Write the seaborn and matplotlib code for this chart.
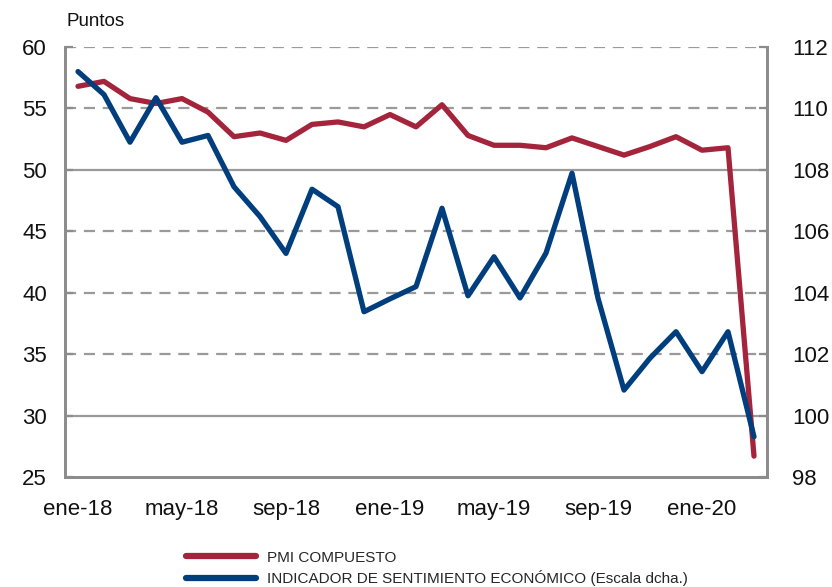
import matplotlib
matplotlib.use("Agg")
import matplotlib.pyplot as plt
import seaborn as sns
import numpy as np
import pandas as pd
from matplotlib.lines import Line2D

# monthly data ene-18 .. mar-20
months = ["ene-18", "feb-18", "mar-18", "abr-18", "may-18", "jun-18", "jul-18", "ago-18", "sep-18",
          "oct-18", "nov-18", "dic-18", "ene-19", "feb-19", "mar-19", "abr-19", "may-19", "jun-19",
          "jul-19", "ago-19", "sep-19", "oct-19", "nov-19", "dic-19", "ene-20", "feb-20", "mar-20"]
pmi = [56.8, 57.2, 55.8, 55.4, 55.8, 54.7, 52.7, 53.0, 52.4, 53.7, 53.9, 53.5, 54.5, 53.5,
       55.3, 52.8, 52.0, 52.0, 51.8, 52.6, 51.9, 51.2, 51.9, 52.7, 51.6, 51.8, 26.7]
esi = [111.2, 110.45, 108.9, 110.35, 108.9, 109.12, 107.45, 106.48, 105.28, 107.37, 106.8,
       103.38, 103.8, 104.2, 106.75, 103.9, 105.17, 103.83, 105.29, 107.89, 103.82, 100.83,
       101.87, 102.73, 101.43, 102.73, 99.31]
tick_labels = ["ene-18", "may-18", "sep-18", "ene-19", "may-19", "sep-19", "ene-20"]

df = pd.DataFrame({"mes": months, "pmi": pmi, "esi": esi})
df["i"] = np.arange(len(df))

red = "#A4243B"
blue = "#003E7E"
grid_c = "#9a9a9a"
spine_c = "#8c8c8c"

sns.set_style("white")
plt.rcParams["font.family"] = ["Liberation Sans", "DejaVu Sans"]

fig = plt.figure(figsize=(8.32, 5.87), dpi=100)
ax = fig.add_axes([65/832, 1-477/587, (767-65)/832, (477-47)/587])
ax2 = ax.twinx()

# gridlines (left scale)
for v in [55, 45, 40, 35, 60]:
    ax.axhline(v, color=grid_c, lw=1.6, ls=(0, (5, 3.5)), zorder=0)
for v in [50, 30]:
    ax.axhline(v, color=grid_c, lw=1.6, zorder=0)

sns.lineplot(data=df, x="i", y="pmi", ax=ax, color=red, lw=3.8, zorder=3)
sns.lineplot(data=df, x="i", y="esi", ax=ax2, color=blue, lw=3.8, zorder=3)

ax.set_xlim(-0.5, len(df) - 0.5)
ax.set_ylim(25, 60)
ax2.set_ylim(98, 112)
ax.set_yticks(np.arange(25, 61, 5))
ax2.set_yticks(np.arange(98, 113, 2))

pos = [months.index(m) for m in tick_labels]
ax.set_xticks(pos)
ax.set_xticklabels(tick_labels)
ax.set_xticks(np.arange(3.5, 24, 4), minor=True)
ax.tick_params(axis="x", which="major", length=0, pad=16, labelsize=16, labelcolor="#111111")
ax.tick_params(axis="x", which="minor", direction="in", length=6, width=1.6, color=spine_c)
ax.tick_params(axis="y", direction="in", length=6, width=1.6, color=spine_c, pad=13,
               labelsize=16, labelcolor="#111111")
ax2.tick_params(axis="y", direction="in", length=6, width=1.6, color=spine_c, pad=18,
                labelsize=16, labelcolor="#111111")

ax.set_xlabel("")
ax.set_ylabel("")
ax2.set_ylabel("")

for a in (ax, ax2):
    a.spines["top"].set_visible(False)
    for s in ["left", "right", "bottom"]:
        a.spines[s].set_color(spine_c)
        a.spines[s].set_linewidth(2)

fig.text(67/832, 1-22/587, "Puntos", fontsize=13.5, va="center", ha="left", color="#111111")

handles = [Line2D([], [], color=red, lw=4.5), Line2D([], [], color=blue, lw=4.5)]
labels = ["PMI COMPUESTO", "INDICADOR DE SENTIMIENTO ECONÓMICO (Escala dcha.)"]
fig.legend(handles, labels, loc="upper left", bbox_to_anchor=(172/832, 1-537/587),
           frameon=False, handlelength=4.6, handletextpad=0.7, labelspacing=0.35,
           prop={"size": 11})

fig.savefig("out.png", dpi=100)
